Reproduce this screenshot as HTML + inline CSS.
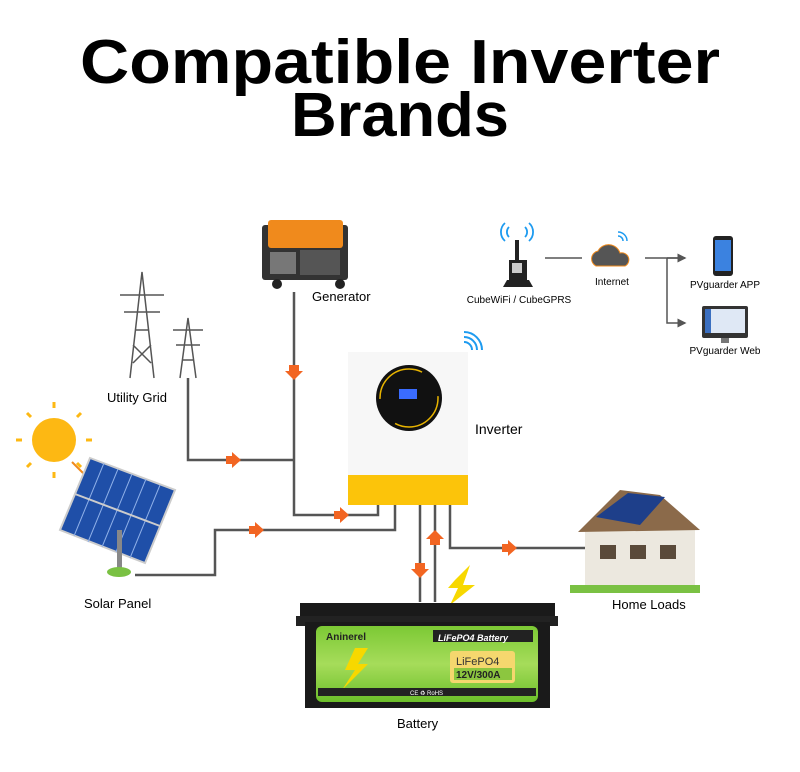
<!DOCTYPE html>
<html><head><meta charset="utf-8"><style>
html,body{margin:0;padding:0;background:#fff}
svg{display:block}
text{font-family:"Liberation Sans",sans-serif}
</style></head><body>
<svg width="800" height="772" viewBox="0 0 800 772" xmlns="http://www.w3.org/2000/svg">
<defs>
<marker id="ar" markerWidth="6" markerHeight="6" refX="5" refY="3" orient="auto"><path d="M0,0 L6,3 L0,6z" fill="#555"/></marker>
<linearGradient id="bg" x1="0" y1="0" x2="0" y2="1"><stop offset="0" stop-color="#7cc934"/><stop offset="0.5" stop-color="#a6dc5a"/><stop offset="1" stop-color="#6cbf2a"/></linearGradient>
</defs>
<text x="400" y="83" font-size="62" font-weight="bold" text-anchor="middle" textLength="640" lengthAdjust="spacingAndGlyphs">Compatible Inverter</text>
<text x="400" y="136" font-size="62" font-weight="bold" text-anchor="middle" textLength="218" lengthAdjust="spacingAndGlyphs">Brands</text>

<!-- connectors -->
<g stroke="#555" stroke-width="2.5" fill="none">
<path d="M294,292 V515 H378 V505"/>
<path d="M188,378 V460 H294"/>
<path d="M135,575 H215 V530 H395 V505"/>
<path d="M420,505 V602"/>
<path d="M435,602 V505"/>
<path d="M450,505 V548 H585"/>
</g>
<g fill="#f26522">
<path d="M289,365 h10 v6 h4 l-9,9 l-9,-9 h4z"/>
<path d="M226,456 h6 v-4 l9,8 l-9,8 v-4 h-6z"/>
<path d="M334,511 h6 v-4 l9,8 l-9,8 v-4 h-6z"/>
<path d="M249,526 h6 v-4 l9,8 l-9,8 v-4 h-6z"/>
<path d="M502,544 h6 v-4 l9,8 l-9,8 v-4 h-6z"/>
<path d="M415,563 h10 v6 h4 l-9,9 l-9,-9 h4z"/>
<path d="M430,545 h10 v-6 h4 l-9,-9 l-9,9 h4z"/>
</g>

<!-- inverter -->
<rect x="348" y="352" width="120" height="124" fill="#f7f7f7"/>
<rect x="348" y="475" width="120" height="30" fill="#fcc40a"/>
<circle cx="409" cy="398" r="33" fill="#111"/>
<circle cx="409" cy="398" r="29" fill="none" stroke="#e8b400" stroke-width="1.5" stroke-dasharray="60 30"/>
<rect x="399" y="389" width="18" height="10" fill="#3a6cff"/>
<g fill="none" stroke="#1e9bf0" stroke-width="2"><path d="M464,342 a8,8 0 0 1 8,8"/><path d="M464,337 a13,13 0 0 1 13,13"/><path d="M464,332 a18,18 0 0 1 18,18"/></g>
<text x="475" y="434" font-size="14">Inverter</text>

<!-- generator -->
<rect x="262" y="225" width="86" height="55" fill="#333" rx="3"/>
<rect x="268" y="220" width="75" height="28" fill="#f08a1c" rx="3"/>
<rect x="300" y="250" width="40" height="25" fill="#555"/>
<rect x="270" y="252" width="26" height="22" fill="#777"/>
<circle cx="277" cy="284" r="5" fill="#222"/><circle cx="340" cy="284" r="5" fill="#222"/>
<text x="312" y="301" font-size="13">Generator</text>

<!-- utility grid -->
<g stroke="#555" stroke-width="1.5" fill="none">
<path d="M130,378 L142,272 L154,378 M136,330 h12 M120,295 h44 M124,312 h36 M133,345 l18,18 M151,345 l-18,18"/>
<path d="M180,378 L188,318 L196,378 M173,330 h30 M176,345 h24 M182,360 h12"/>
</g>
<text x="107" y="402" font-size="13">Utility Grid</text>

<!-- sun & solar -->
<circle cx="54" cy="440" r="22" fill="#fdb813"/>
<g stroke="#fdb813" stroke-width="3"><path d="M54,408 v-6 M54,472 v6 M22,440 h-6 M86,440 h6 M31,417 l-4,-4 M77,463 l4,4 M31,463 l-4,4 M77,417 l4,-4"/></g>
<path d="M72,462 l14,14" stroke="#f08a1c" stroke-width="2"/>
<g transform="translate(60,458)">
<polygon points="30,0 115,32 85,105 0,72" fill="#1f4fa8" stroke="#ccc" stroke-width="2"/>
<path d="M58,11 L28,84 M44,5 L14,78 M72,16 L42,89 M86,21 L56,94 M100,27 L70,100" stroke="#8fb0e8" stroke-width="1"/>
<path d="M15,36 L100,68" stroke="#ccc" stroke-width="2"/>
</g>
<rect x="117" y="530" width="5" height="40" fill="#888"/>
<ellipse cx="119" cy="572" rx="12" ry="5" fill="#7ac143"/>
<text x="84" y="608" font-size="13">Solar Panel</text>

<!-- house -->
<polygon points="585,530 640,498 695,530 695,590 585,590" fill="#ece8df"/>
<polygon points="578,532 620,490 660,495 700,530" fill="#8b6a4a"/>
<polygon points="596,517 628,493 665,497 640,525" fill="#1e3f8a"/>
<rect x="600" y="545" width="16" height="14" fill="#5a4a3a"/><rect x="630" y="545" width="16" height="14" fill="#5a4a3a"/><rect x="660" y="545" width="16" height="14" fill="#5a4a3a"/>
<rect x="570" y="585" width="130" height="8" fill="#7ac143"/>
<text x="612" y="609" font-size="13">Home Loads</text>

<!-- battery -->
<polygon points="455,580 470,565 463,585 475,585 450,605 458,588 448,588" fill="#f7d800"/>
<rect x="300" y="603" width="255" height="20" fill="#1a1a1a"/>
<rect x="296" y="616" width="262" height="10" fill="#222"/>
<rect x="305" y="622" width="245" height="86" fill="#1a1a1a"/>
<rect x="316" y="626" width="222" height="76" rx="6" fill="url(#bg)"/>
<rect x="433" y="630" width="100" height="12" fill="#222"/>
<text x="438" y="641" font-size="9" fill="#fff" font-style="italic" font-weight="bold">LiFePO4 Battery</text>
<text x="326" y="640" font-size="10" font-weight="bold" fill="#222">Aninerel</text>
<rect x="450" y="651" width="65" height="32" rx="3" fill="#f5d76e"/>
<text x="456" y="665" font-size="11" fill="#333">LiFePO4</text>
<rect x="454" y="668" width="58" height="12" fill="#8cc63f"/>
<text x="456" y="678" font-size="10" font-weight="bold" fill="#222">12V/300A</text>
<polygon points="355,648 345,670 355,670 342,690 368,664 358,664 368,648" fill="#f7d800"/>
<rect x="318" y="688" width="218" height="8" fill="#222"/>
<text x="410" y="695" font-size="6" fill="#fff">CE ♻ RoHS</text>
<text x="397" y="728" font-size="13">Battery</text>

<!-- network -->
<g fill="none" stroke="#1e9bf0" stroke-width="1.8"><path d="M509,227 a7,7 0 0 0 0,10 M505,223 a12,12 0 0 0 0,18 M525,227 a7,7 0 0 1 0,10 M529,223 a12,12 0 0 1 0,18"/></g>
<rect x="515" y="240" width="4" height="22" fill="#222"/>
<rect x="509" y="260" width="18" height="20" fill="#222"/>
<rect x="512" y="263" width="10" height="10" fill="#ccc"/>
<path d="M507,280 h22 l4,7 h-30z" fill="#222"/>
<text x="519" y="303" font-size="10" text-anchor="middle">CubeWiFi / CubeGPRS</text>
<path d="M545,258 H582" stroke="#555" stroke-width="1.5"/>
<path d="M596,266 a8,8 0 0 1 2,-15 a12,12 0 0 1 22,2 a7,7 0 0 1 5,13z" fill="#555" stroke="#f08a1c" stroke-width="1"/>
<g fill="none" stroke="#1e9bf0" stroke-width="1.5"><path d="M618,236 a5,5 0 0 1 5,5 M618,232 a9,9 0 0 1 9,9"/></g>
<text x="612" y="285" font-size="10" text-anchor="middle">Internet</text>
<path d="M645,258 H685 M667,258 V323 H685" stroke="#555" stroke-width="1.5" fill="none" marker-end="url(#ar)"/>
<path d="M667,258 H685" stroke="#555" stroke-width="1.5" marker-end="url(#ar)"/>
<rect x="713" y="236" width="20" height="40" rx="3" fill="#222"/>
<rect x="715" y="240" width="16" height="31" fill="#3b82e0"/>
<text x="725" y="288" font-size="10" text-anchor="middle">PVguarder APP</text>
<rect x="702" y="306" width="46" height="32" rx="2" fill="#333"/>
<rect x="705" y="309" width="40" height="24" fill="#dfe8f5"/>
<rect x="705" y="309" width="6" height="24" fill="#3b6fc0"/>
<rect x="721" y="338" width="8" height="5" fill="#777"/>
<text x="725" y="354" font-size="10" text-anchor="middle">PVguarder Web</text>
</svg>
</body></html>
